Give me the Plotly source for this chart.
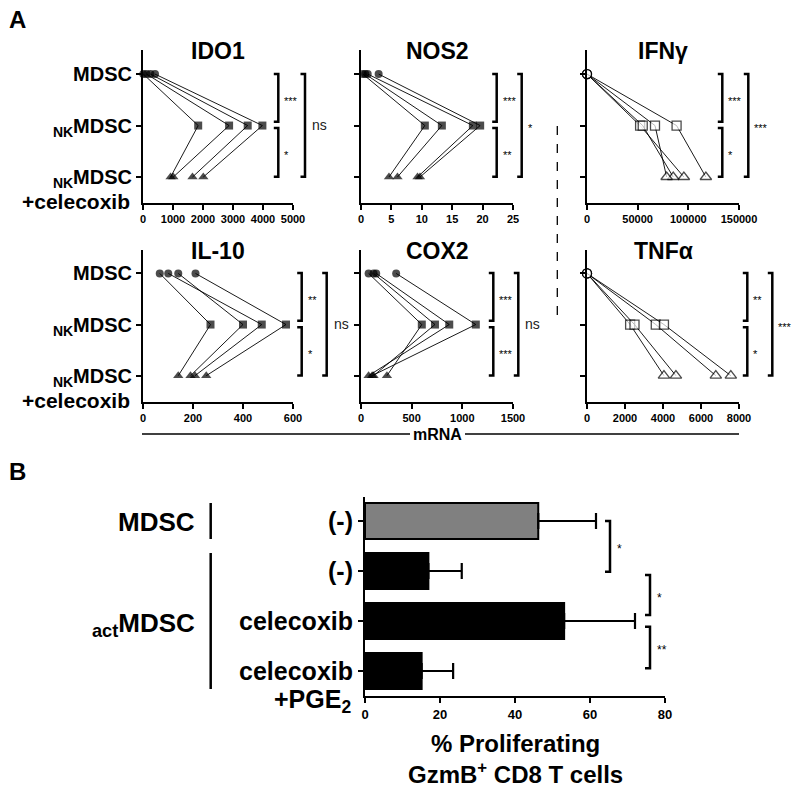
import plotly.graph_objects as go

W, H = 800, 792
FONT = "Arial, Liberation Sans, sans-serif"

# ---------------- data: panel A ----------------
cats = ["MDSC", "NK MDSC", "NK MDSC + celecoxib"]
cat_ticktext = ["MDSC", "<sub>NK</sub>MDSC", "<sub>NK</sub>MDSC"]

ido1_mdsc = [10, 120, 250, 400]
ido1_nk = [1840, 2870, 3490, 3980]
ido1_cel = [920, 1010, 1650, 2010]

nos2_mdsc = [0.3, 0.7, 1.1, 2.9]
nos2_nk = [10.5, 13.3, 18.4, 19.6]
nos2_cel = [4.6, 6.0, 9.3, 9.7]

ifng_mdsc = [0, 0, 0, 0]
ifng_nk = [52400, 55000, 67100, 88400]
ifng_cel = [95600, 85100, 78600, 117300]

il10_mdsc = [67, 101, 141, 210]
il10_nk = [270, 475, 400, 572]
il10_cel = [141, 208, 190, 253]

cox2_mdsc = [75, 124, 150, 347]
cox2_nk = [600, 730, 871, 1133]
cox2_cel = [256, 124, 75, 110]

tnfa_mdsc = [0, 0, 0, 0]
tnfa_nk = [2270, 2500, 3620, 4050]
tnfa_cel = [4050, 4680, 6780, 7570]

x_ranges = {"IDO1": [0, 5000], "NOS2": [0, 25], "IFNγ": [0, 150000],
            "IL-10": [0, 600], "COX2": [0, 1500], "TNFα": [0, 8000]}
x_dticks = {"IDO1": 1000, "NOS2": 5, "IFNγ": 50000,
            "IL-10": 200, "COX2": 500, "TNFα": 2000}

# significance labels: (upper pair, lower pair, outer)
sig = {"IDO1": ("***", "*", "ns"), "NOS2": ("***", "**", "*"),
       "IFNγ": ("***", "*", "***"), "IL-10": ("**", "*", "ns"),
       "COX2": ("***", "***", "ns"), "TNFα": ("**", "*", "***")}

# ---------------- data: panel B ----------------
b_cats = ["MDSC (-)", "actMDSC (-)", "actMDSC celecoxib", "actMDSC celecoxib+PGE2"]
b_ticktext = ["(-)", "(-)", "celecoxib", "celecoxib"]
b_values = [46.2, 16.9, 53.1, 15.1]
b_errors = [15.4, 8.9, 18.9, 8.4]
b_colors = ["#808080", "#000000", "#000000", "#000000"]
b_sig = ["*", "*", "**"]

# ---------------- helpers ----------------
def PX(x):
    return x / W

def PY(y):
    return 1 - y / H

panels = [
    ("IDO1", (ido1_mdsc, ido1_nk, ido1_cel), False, (143, 293), (50, 203),
     dict(sx=278.3, bx=305, top=74, mid1=121.7, mid2=128, bot=176.7)),
    ("NOS2", (nos2_mdsc, nos2_nk, nos2_cel), False, (361, 513), (50, 203),
     dict(sx=496.7, bx=521.7, top=74, mid1=121.7, mid2=128, bot=176.7)),
    ("IFNγ", (ifng_mdsc, ifng_nk, ifng_cel), True, (587, 739), (50, 203),
     dict(sx=722.3, bx=748.3, top=74, mid1=121.7, mid2=128, bot=176.7)),
    ("IL-10", (il10_mdsc, il10_nk, il10_cel), False, (143, 293), (249.5, 401.5),
     dict(sx=301.7, bx=326.7, top=273, mid1=320.7, mid2=327.3, bot=375.5)),
    ("COX2", (cox2_mdsc, cox2_nk, cox2_cel), False, (361, 513), (249.5, 401.5),
     dict(sx=493.3, bx=518.3, top=273, mid1=320.7, mid2=327.3, bot=375.5)),
    ("TNFα", (tnfa_mdsc, tnfa_nk, tnfa_cel), True, (587, 739), (249.5, 401.5),
     dict(sx=747.3, bx=772.3, top=273, mid1=320.7, mid2=327.3, bot=375.5)),
]

fig = go.Figure()
shapes = []
annotations = []
layout_axes = {}

BR_W = 2.5

def bracket(x, y0, y1, tick=4.5):
    return dict(type="path", xref="paper", yref="paper",
                path=f"M {PX(x - tick)},{PY(y0)} L {PX(x)},{PY(y0)} L {PX(x)},{PY(y1)} L {PX(x - tick)},{PY(y1)}",
                line=dict(color="black", width=BR_W))

def text(x, y, t, size, bold=False, xanchor="center", color="black"):
    return dict(x=PX(x), y=PY(y), xref="paper", yref="paper", text=t, showarrow=False,
                xanchor=xanchor, yanchor="middle",
                font=dict(family=FONT, size=size, color=color, weight="bold" if bold else "normal"))

for i, (name, (a, b, c), open_mk, xd, yd, br) in enumerate(panels):
    n = i + 1
    xa = "x" if n == 1 else f"x{n}"
    ya = "y" if n == 1 else f"y{n}"
    if open_mk:
        mcolor = "white"
        mline = dict(color="black", width=1.3)
        sizes = [9, 9, 10]
    else:
        mcolor = "black"
        mline = dict(color="black", width=0)
        sizes = [8, 8, 9]
    for k in range(len(a)):
        fig.add_trace(go.Scatter(
            x=[a[k], b[k], c[k]], y=cats, xaxis=xa, yaxis=ya,
            mode="lines+markers", cliponaxis=False, showlegend=False,
            line=dict(color="black", width=0.9),
            marker=dict(symbol=["circle", "square", "triangle-up"], size=sizes,
                        color=mcolor, line=mline)))
    left = n in (1, 4)
    layout_axes["xaxis" if n == 1 else f"xaxis{n}"] = dict(
        domain=[PX(xd[0]), PX(xd[1])], anchor=ya, range=x_ranges[name],
        dtick=x_dticks[name], tick0=0, tickformat="d", showgrid=False, zeroline=False,
        showline=True, linecolor="black", linewidth=2, ticks="outside", ticklen=5,
        tickwidth=2, tickcolor="black",
        tickfont=dict(family=FONT, size=11, color="black", weight="bold"))
    layout_axes["yaxis" if n == 1 else f"yaxis{n}"] = dict(
        domain=[PY(yd[1]), PY(yd[0])], anchor=xa, type="category",
        categoryorder="array", categoryarray=cats, range=[2.505, -0.468],
        tickmode="array", tickvals=cats, ticktext=cat_ticktext,
        showticklabels=left, showgrid=False, zeroline=False,
        showline=True, linecolor="black", linewidth=2, ticks="outside", ticklen=5,
        tickwidth=2, tickcolor="black",
        tickfont=dict(family=FONT, size=20, color="black", weight="bold"))
    annotations.append(text((xd[0] + xd[1]) / 2, yd[0] + 1.5, name, 23, bold=True))
    if left:
        annotations.append(text(132, yd[0] + 151, "+celecoxib", 21, bold=True, xanchor="right"))
    s1, s2, s3 = sig[name]
    shapes.append(bracket(br["sx"], br["top"], br["mid1"]))
    shapes.append(bracket(br["sx"], br["mid2"], br["bot"]))
    shapes.append(bracket(br["bx"], br["top"], br["bot"]))
    annotations.append(text(br["sx"] + 4, (br["top"] + br["mid1"]) / 2 + 3, s1, 11,
                            xanchor="left", color="black"))
    annotations.append(text(br["sx"] + 4, (br["mid2"] + br["bot"]) / 2 + 3, s2, 11,
                            xanchor="left", color="black"))
    if s3 == "ns":
        annotations.append(text(br["bx"] + 5, (br["top"] + br["bot"]) / 2, s3, 14,
                                xanchor="left", color="#222"))
    else:
        annotations.append(text(br["bx"] + 4, (br["top"] + br["bot"]) / 2 + 3, s3, 11,
                                xanchor="left", color="black"))

# dashed divider and mRNA line
shapes.append(dict(type="line", xref="paper", yref="paper", x0=PX(557.3), x1=PX(557.3),
                   y0=PY(126), y1=PY(324), line=dict(color="black", width=1.3, dash="dash")))
shapes.append(dict(type="line", xref="paper", yref="paper", x0=PX(142), x1=PX(410),
                   y0=PY(434), y1=PY(434), line=dict(color="black", width=1.3)))
shapes.append(dict(type="line", xref="paper", yref="paper", x0=PX(465), x1=PX(739),
                   y0=PY(434), y1=PY(434), line=dict(color="black", width=1.3)))
annotations.append(text(437.5, 435, "mRNA", 16, bold=True))

# panel letters
annotations.append(text(17, 19, "A", 24, bold=True))
annotations.append(text(17, 471, "B", 24, bold=True))

# ---------------- panel B ----------------
fig.add_trace(go.Bar(
    x=b_values, y=b_cats, orientation="h", xaxis="x7", yaxis="y7", width=0.72,
    showlegend=False,
    marker=dict(color=b_colors, line=dict(color="black", width=2)),
    error_x=dict(type="data", array=b_errors, arrayminus=[0] * 4, symmetric=False,
                 thickness=2.2, width=8, color="black")))

layout_axes["xaxis7"] = dict(
    domain=[PX(365), PX(665)], anchor="y7", range=[0, 80], dtick=20, tick0=0,
    showgrid=False, zeroline=False, showline=True, linecolor="black", linewidth=2,
    ticks="outside", ticklen=5, tickwidth=2, tickcolor="black",
    tickfont=dict(family=FONT, size=13, color="black", weight="bold"))
layout_axes["yaxis7"] = dict(
    domain=[PY(696), PY(497.3)], anchor="x7", type="category", categoryorder="array",
    categoryarray=b_cats, range=[3.5, -0.474], tickmode="array", tickvals=b_cats,
    ticktext=b_ticktext, showgrid=False, zeroline=False, showline=True,
    linecolor="black", linewidth=2, ticks="outside", ticklen=5, tickwidth=2,
    tickcolor="black", tickfont=dict(family=FONT, size=25, color="black", weight="bold"))

annotations.append(text(353, 701, "+PGE<sub>2</sub>", 25, bold=True, xanchor="right"))
annotations.append(text(515, 759, "% Proliferating<br>GzmB<sup>+</sup> CD8 T cells", 24, bold=True))
annotations.append(text(197, 522, "MDSC", 26, bold=True, xanchor="right"))
annotations.append(text(197, 624, "<sub>act</sub>MDSC", 26, bold=True, xanchor="right"))
shapes.append(dict(type="line", xref="paper", yref="paper", x0=PX(210.7), x1=PX(210.7),
                   y0=PY(503), y1=PY(539), line=dict(color="black", width=2.5)))
shapes.append(dict(type="line", xref="paper", yref="paper", x0=PX(210.7), x1=PX(210.7),
                   y0=PY(553), y1=PY(689), line=dict(color="black", width=2.5)))

# B brackets
shapes.append(bracket(610, 521, 571.7, tick=5))
shapes.append(bracket(650, 575, 615, tick=5))
shapes.append(bracket(650, 626.7, 668.3, tick=5))
annotations.append(text(615, 549, b_sig[0], 12, xanchor="left", color="black"))
annotations.append(text(655, 598, b_sig[1], 12, xanchor="left", color="black"))
annotations.append(text(655, 650, b_sig[2], 12, xanchor="left", color="black"))

fig.update_layout(
    width=W, height=H, margin=dict(l=0, r=0, t=0, b=0, autoexpand=False),
    paper_bgcolor="white", plot_bgcolor="white", showlegend=False,
    font=dict(family=FONT, color="black"),
    shapes=shapes, annotations=annotations, **layout_axes)

fig.write_html("out.html", config={"displayModeBar": False},
               post_script="document.body.style.margin='0';document.body.style.padding='0';")
